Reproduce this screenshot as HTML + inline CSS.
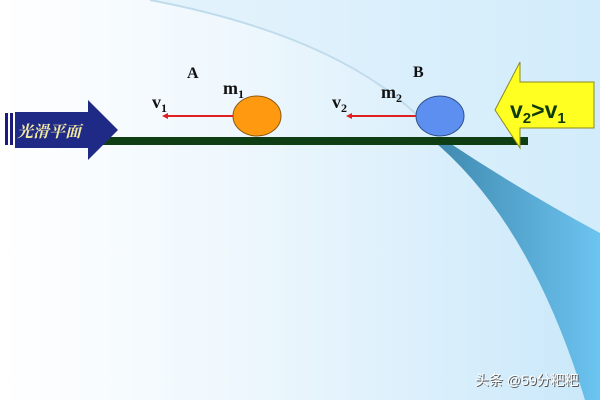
<!DOCTYPE html><html><head><style>body{margin:0}svg{display:block}</style></head><body>
<svg width="600" height="400" xmlns="http://www.w3.org/2000/svg" font-family="Liberation Serif, serif">
<defs>
<linearGradient id="bg" x1="0" x2="1"><stop offset="0" stop-color="#ffffff"/><stop offset="0.4" stop-color="#eef7fd"/><stop offset="1" stop-color="#c9e8fa"/></linearGradient>
<linearGradient id="w" x1="0" x2="1"><stop offset="0" stop-color="#3d87ad"/><stop offset="1" stop-color="#6cc4f0"/></linearGradient>
</defs>
<rect width="600" height="400" fill="url(#bg)"/>
<path d="M150 0 Q360 40 440 140 Q560 260 600 400 L600 0Z" fill="#d8eefb" opacity="0.6"/>
<path d="M150 0 Q360 40 440 140" fill="none" stroke="#c0dcec" stroke-width="2"/>
<path d="M430 138 Q530 220 585 400 L600 400 L600 233 Q520 190 445 140Z" fill="url(#w)"/>
<rect x="95" y="137" width="433" height="8" fill="#0f3d14"/>
<rect x="5" y="113" width="3" height="32" fill="#1a1a80"/><rect x="10" y="113" width="3" height="32" fill="#1a1a80"/>
<path d="M15 112 H88 V100 L118 130 L88 160 V148 H15Z" fill="#1f2a86"/>
<text x="17" y="137" font-family="Noto Serif CJK SC, serif" font-size="16" font-weight="bold" fill="#f0e8a0" font-style="italic">光滑平面</text>
<path d="M594 82 V128 H520 V148 L495 110 L520 62 V82Z" fill="#ffff22" stroke="#8a8a20" stroke-width="1"/>
<text x="510" y="118" font-family="Liberation Sans, sans-serif" font-size="23" font-weight="bold" fill="#0f3a0a">v<tspan font-size="15" dy="5">2</tspan><tspan dy="-5">&gt;v</tspan><tspan font-size="15" dy="5">1</tspan></text>
<ellipse cx="257" cy="116" rx="24" ry="20" fill="#ff9a10" stroke="#8a5a10"/>
<ellipse cx="440" cy="116" rx="24" ry="20" fill="#5c8ff0" stroke="#30508a"/>
<line x1="233" y1="116" x2="166" y2="116" stroke="#e02020" stroke-width="2"/><path d="M162 116 l6 -3 v6z" fill="#e02020"/>
<line x1="416" y1="116" x2="350" y2="116" stroke="#e02020" stroke-width="2"/><path d="M346 116 l6 -3 v6z" fill="#e02020"/>
<g font-weight="bold" fill="#111" font-size="18">
<text x="187" y="78" font-size="16">A</text>
<text x="413" y="77" font-size="16">B</text>
<text x="223" y="94">m<tspan font-size="12" dy="4">1</tspan></text>
<text x="381" y="98">m<tspan font-size="12" dy="4">2</tspan></text>
<text x="152" y="108">v<tspan font-size="12" dy="4">1</tspan></text>
<text x="332" y="108">v<tspan font-size="12" dy="4">2</tspan></text>
</g>
<text x="476" y="386" font-family="Liberation Sans, Noto Sans CJK SC, sans-serif" font-size="14" fill="#555">头条 @59分粑粑</text>
<text x="475" y="385" font-family="Liberation Sans, Noto Sans CJK SC, sans-serif" font-size="14" fill="#fff">头条 @59分粑粑</text>
</svg></body></html>
